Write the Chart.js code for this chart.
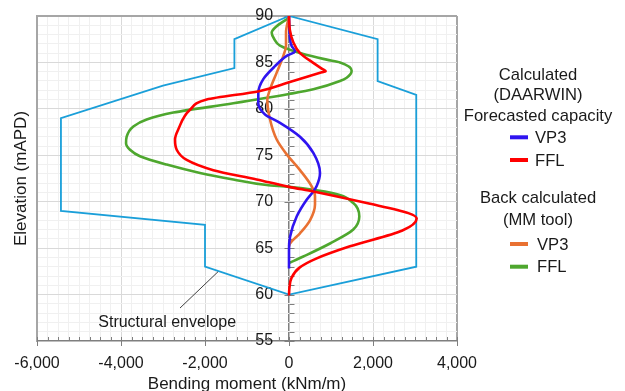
<!DOCTYPE html>
<html>
<head>
<meta charset="utf-8">
<script src="https://cdn.jsdelivr.net/npm/chart.js@4/dist/chart.umd.min.js"></script>
<style>
  body { margin: 0; background: #fff; }
</style>
</head>
<body>
<canvas id="momentChart" width="625" height="391"></canvas>
<script>
// bending moment (kNm/m) vs elevation (mAPD), points listed top to bottom
const calcVp3Moment = [0, 24, 60, 143, -55, -333, -612, -731, -731, -571, -214, 262, 579, 738, 659, 579, 421, 183, 24, 0, 0];
const calcVp3Elev = [90, 87.5, 86.8, 86.2, 85.7, 84.6, 83.2, 81.7, 80.6, 79.4, 78.5, 77.0, 75.25, 73.1, 71.7, 71.1, 70.2, 68.4, 66.2, 64.8, 62.8];

const calcFflMoment = [0, 20, 100, 262, 560, 810, 874, 780, 0, -714, -1960, -2357, -2635, -2714, -2674, -2436, -1802, -770, 0, 579, 1850, 2841, 3040, 2700, 1452, 660, 250, 60, 10, 0];
const calcFflElev = [90, 88.5, 87.2, 86.0, 85.0, 84.25, 84.06, 83.93, 82.87, 81.9, 81.0, 79.9, 77.8, 76.7, 75.6, 74.5, 73.4, 72.4, 71.6, 71.1, 69.85, 68.77, 68.2, 66.9, 65.2, 63.9, 62.9, 61.8, 60.7, 59.9];

const backVp3Moment = [0, -71, -71, -135, -293, -452, -516, -452, -293, -55, 262, 540, 619, 619, 500, 262, 24, 0];
const backVp3Elev = [90, 88.2, 86.8, 85.7, 83.9, 82.1, 81.0, 78.85, 76.7, 75.1, 73.4, 71.65, 70.6, 69.7, 68.0, 66.6, 65.5, 65.2];

const backFflMoment = [0, -293, -412, -349, -214, 341, 897, 1214, 1492, 1373, 1214, 579, 0, -1326, -2754, -3389, -3706, -3865, -3880, -3786, -3548, -2913, -2119, -1326, -531, 0, 1055, 1531, 1674, 1531, 976, 341, 0];
const backFflElev = [89.8, 88.9, 88.2, 87.5, 86.8, 85.9, 85.3, 85.0, 84.1, 83.35, 83.0, 82.1, 81.6, 80.6, 79.6, 78.85, 78.1, 77.0, 76.3, 75.6, 74.9, 74.0, 73.1, 72.4, 71.8, 71.6, 70.9, 69.85, 68.4, 67.0, 65.5, 64.1, 63.4];

const envelopeMoment = [0, -1300, -1300, -3000, -5430, -5430, -2000, -2000, 0, 3030, 3030, 2110, 2110, 0];
const envelopeElev = [90, 87.5, 84.4, 82.5, 79, 69, 67.5, 63, 60, 63, 81.5, 83, 87.5, 90];

const calcTitle = ["Calculated", "(DAARWIN)", "Forecasted capacity"];
const backTitle = ["Back calculated", "(MM tool)"];
const envelopeLabel = "Structural envelope";

const FONT = '"Liberation Sans", Arial, sans-serif';
Chart.defaults.font.family = FONT;
Chart.defaults.color = "#1a1a1a";

function pts(xs, ys) {
  return xs.map((x, i) => ({ x: x, y: ys[i] }));
}

function curve(label, xs, ys, color) {
  return {
    label: label,
    data: pts(xs, ys),
    indexAxis: "y",
    borderColor: color,
    backgroundColor: color,
    borderWidth: 2.6,
    pointRadius: 0,
    cubicInterpolationMode: "monotone",
    fill: false,
  };
}

// legend, envelope callout and axis tick marks
const extras = {
  id: "extras",
  beforeDatasetsDraw(chart) {
    const { ctx, chartArea } = chart;
    const xs = chart.scales.x, ys = chart.scales.y;
    const x0 = Math.round(xs.getPixelForValue(0)) + 0.5;
    ctx.save();
    ctx.strokeStyle = "#7f7f7f";
    ctx.lineWidth = 1;
    xs.ticks.forEach((t) => {
      const px = Math.round(xs.getPixelForValue(t.value)) + 0.5;
      const major = t.value % 2000 === 0;
      ctx.beginPath();
      ctx.moveTo(px, chartArea.bottom - 4);
      ctx.lineTo(px, chartArea.bottom + (major ? 5 : 0));
      ctx.stroke();
    });
    ys.ticks.forEach((t) => {
      const py = Math.round(ys.getPixelForValue(t.value)) + 0.5;
      const major = t.value % 5 === 0;
      ctx.beginPath();
      ctx.moveTo(x0 - (major ? 5 : 0), py);
      ctx.lineTo(x0 + 5, py);
      ctx.stroke();
    });
    ctx.restore();
  },
  afterDraw(chart) {
    const { ctx } = chart;
    const xs = chart.scales.x, ys = chart.scales.y;
    ctx.save();
    ctx.font = "16px " + FONT;
    ctx.fillStyle = "#1a1a1a";
    ctx.textBaseline = "middle";

    // callout for the envelope
    ctx.strokeStyle = "#404040";
    ctx.lineWidth = 1;
    ctx.beginPath();
    ctx.moveTo(xs.getPixelForValue(-2595), ys.getPixelForValue(58.55));
    ctx.lineTo(xs.getPixelForValue(-1690), ys.getPixelForValue(62.46));
    ctx.stroke();
    ctx.textAlign = "center";
    ctx.fillText(envelopeLabel, xs.getPixelForValue(-2900), ys.getPixelForValue(56.95));

    // grouped legend
    ctx.font = "16.6px " + FONT;
    const ds = chart.data.datasets;
    const cx = 538;
    calcTitle.forEach((t, i) => ctx.fillText(t, cx, 75 + i * 20.8));
    backTitle.forEach((t, i) => ctx.fillText(t, cx, 198 + i * 22));
    const items = [
      [ds[1], 137.3, 535],
      [ds[0], 160, 535],
      [ds[2], 244, 537],
      [ds[3], 266.7, 537],
    ];
    items.forEach(([d, y, tx]) => {
      ctx.strokeStyle = d.borderColor;
      ctx.lineWidth = 4;
      ctx.beginPath();
      ctx.moveTo(510, y);
      ctx.lineTo(528, y);
      ctx.stroke();
      ctx.textAlign = "left";
      ctx.fillText(d.label, tx, y + 1);
    });
    ctx.restore();
  },
};

new Chart(document.getElementById("momentChart"), {
  type: "line",
  data: {
    datasets: [
      curve("FFL", calcFflMoment, calcFflElev, "#ff0000"),
      curve("VP3", calcVp3Moment, calcVp3Elev, "#2f14f0"),
      curve("VP3", backVp3Moment, backVp3Elev, "#e97132"),
      curve("FFL", backFflMoment, backFflElev, "#4ea72e"),
      {
        label: envelopeLabel,
        data: pts(envelopeMoment, envelopeElev),
        indexAxis: "y",
        borderColor: "#1a9fd9",
        borderWidth: 1.8,
        pointRadius: 0,
        tension: 0,
        fill: false,
      },
    ],
  },
  options: {
    responsive: false,
    animation: false,
    layout: { padding: { left: 0, right: 168, top: 16, bottom: 0 } },
    plugins: {
      legend: { display: false },
      tooltip: { enabled: false },
    },
    scales: {
      x: {
        type: "linear",
        min: -6000,
        max: 4000,
        afterFit: (s) => { s.height = 50; },
        ticks: {
          stepSize: 250,
          autoSkip: false,
          maxRotation: 0,
          padding: 13,
          font: { size: 16 },
          callback: (v) => (v % 2000 === 0 ? v.toLocaleString("en-US") : ""),
        },
        grid: {
          drawTicks: false,
          color: (c) => {
            const v = c.tick.value;
            if (v === 4000) return "#a6a6a6";
            if (v === 0) return "#7f7f7f";
            if (v === -6000) return "rgba(0,0,0,0)";
            return v % 2000 === 0 ? "#d9d9d9" : "#f0f0f0";
          },
          lineWidth: (c) => (c.tick.value === 4000 ? 2 : c.tick.value === 0 ? 1.5 : 1),
        },
        border: { color: "#7f7f7f", width: 1.5 },
        title: {
          display: true,
          text: "Bending moment (kNm/m)",
          font: { size: 17 },
          padding: { top: 0, bottom: -4 },
        },
      },
      y: {
        type: "linear",
        position: "left",
        min: 55,
        max: 90,
        afterFit: (s) => { s.width = 37; },
        ticks: { stepSize: 1, display: false },
        grid: {
          drawTicks: false,
          color: (c) => {
            const v = c.tick.value;
            if (v === 90) return "#a6a6a6";
            if (v === 55) return "rgba(0,0,0,0)";
            return v % 5 === 0 ? "#d9d9d9" : "#f0f0f0";
          },
          lineWidth: (c) => (c.tick.value === 90 ? 2 : 1),
        },
        border: { color: "#a6a6a6", width: 2 },
        title: {
          display: true,
          text: "Elevation (mAPD)",
          font: { size: 17 },
          padding: { top: 11, bottom: 0 },
        },
      },
      // tick labels sit just left of the zero line
      yLabels: {
        type: "linear",
        position: { x: -380 },
        min: 55,
        max: 90,
        ticks: { stepSize: 5, font: { size: 16 } },
        grid: { drawOnChartArea: false, drawTicks: false },
        border: { display: false },
      },
    },
  },
  plugins: [extras],
});
</script>
</body>
</html>
